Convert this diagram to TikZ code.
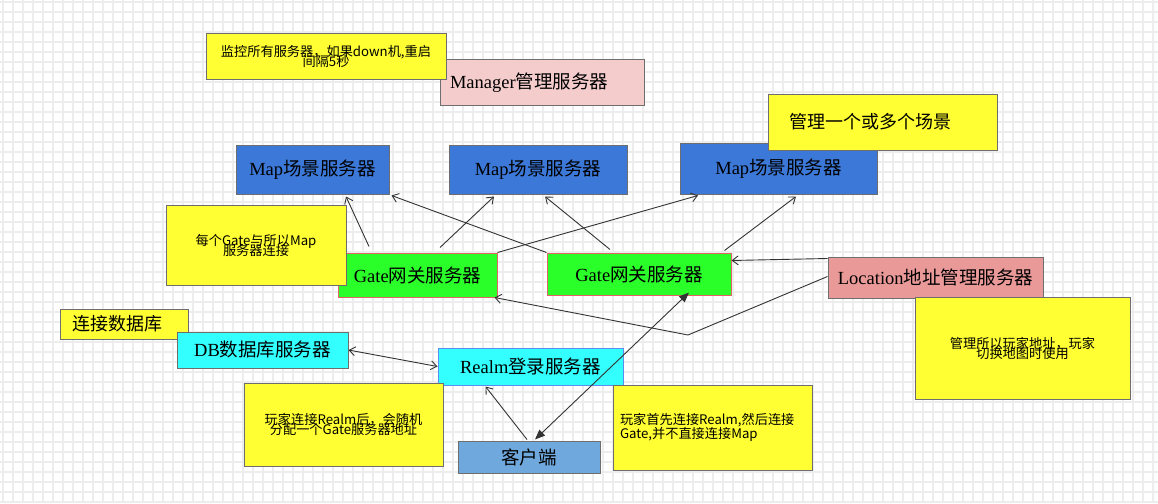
\documentclass[tikz,border=0pt]{standalone}
\usepackage{fontspec}
\setmainfont{Liberation Serif}
\newfontfamily\cjk{Noto Sans CJK SC}
\usepackage{tikz}
\usetikzlibrary{arrows.meta}

\definecolor{gridgray}{HTML}{EDEDED}
\definecolor{boxgray}{HTML}{6E6E6E}
\definecolor{linkgray}{HTML}{333333}
\definecolor{noteyellow}{HTML}{FFFF33}
\definecolor{mapblue}{HTML}{3C78D8}
\definecolor{gategreen}{HTML}{2AFF2A}
\definecolor{gatered}{HTML}{E06666}
\definecolor{managerpink}{HTML}{F4CCCC}
\definecolor{locationpink}{HTML}{EA9999}
\definecolor{dbcyan}{HTML}{33FFFF}
\definecolor{realmblue}{HTML}{5B8DEF}
\definecolor{clientblue}{HTML}{6FA8DC}

\setlength{\lineskiplimit}{-50pt}
\newcommand{\srvlabel}[2]{#1{\cjk #2}}

\tikzset{
  gridline/.style={draw=gridgray, line width=1.2pt},
  srvbox/.style={draw=boxgray, line width=1pt, inner sep=0pt,
    font=\fontsize{18.5}{18.5}\selectfont},
  notebox/.style={draw=boxgray, fill=noteyellow, line width=1pt, inner sep=0pt,
    align=center, font=\cjk\fontsize{13.2}{10}\selectfont},
  bignote/.style={notebox, font=\cjk\fontsize{18}{18}\selectfont},
  link/.style={draw=linkgray, line width=0.9pt, ->},
  duplex/.style={draw=linkgray, line width=0.9pt,
    {Triangle[length=10pt,width=8pt]}-{Triangle[length=10pt,width=8pt]}},
}

\begin{document}
\begin{tikzpicture}[x=1pt, y=-1pt, >={Straight Barb[length=6pt,width=9pt]}]
  \useasboundingbox (0,0) rectangle (1158,503);
  % grid
  \foreach \gx in {3,13,...,1153}
    \draw[gridline] (\gx,0) -- (\gx,503);
  \foreach \gy in {2,12,...,502}
    \draw[gridline] (0,\gy) -- (1158,\gy);

  % manager
  \node[srvbox, fill=managerpink, minimum width=204pt, minimum height=45pt,
    text width=184pt, align=left] (manager) at (542,82.5) {\srvlabel{Manager}{管理服务器}};
  \node[notebox, minimum width=240pt, minimum height=45pt] (monitor) at (326,56.5)
    {监控所有服务器，如果down机,重启\\间隔5秒};

  % maps
  \node[srvbox, fill=mapblue, minimum width=153pt, minimum height=49pt] (map1) at (312.5,169.5) {\srvlabel{Map}{场景服务器}};
  \node[srvbox, fill=mapblue, minimum width=178pt, minimum height=49pt] (map2) at (538,169.5) {\srvlabel{Map}{场景服务器}};
  \node[srvbox, fill=mapblue, minimum width=197pt, minimum height=51pt] (map3) at (778.5,168.5) {\srvlabel{Map}{场景服务器}};
  \node[bignote, minimum width=229pt, minimum height=56pt, text width=187pt, align=left] (scenenote) at (882.5,122) {管理一个或多个场景};

  % gates
  \node[srvbox, fill=gategreen, draw=gatered, minimum width=159pt, minimum height=44pt] (gate1) at (417.5,275) {\srvlabel{Gate}{网关服务器}};
  \node[srvbox, fill=gategreen, draw=gatered, minimum width=184pt, minimum height=42pt] (gate2) at (639,274) {\srvlabel{Gate}{网关服务器}};
  \node[notebox, minimum width=180pt, minimum height=80pt] (gatenote) at (256,245)
    {每个Gate与所以Map\\服务器连接};

  % location
  \node[srvbox, fill=locationpink, minimum width=215pt, minimum height=41pt] (location) at (935.5,277.5) {\srvlabel{Location}{地址管理服务器}};
  \node[notebox, minimum width=215pt, minimum height=102pt] (locnote) at (1022.5,348)
    {管理所以玩家地址，玩家\\切换地图时使用};

  % db, realm, client
  \node[bignote, minimum width=128pt, minimum height=30pt, text width=104pt, align=left] (dbnote) at (124,324) {连接数据库};
  \node[srvbox, fill=dbcyan, minimum width=171pt, minimum height=36pt] (db) at (262.5,350) {\srvlabel{DB}{数据库服务器}};
  \node[srvbox, fill=dbcyan, draw=realmblue, minimum width=185pt, minimum height=37pt] (realm) at (530.5,366.5) {\srvlabel{Realm}{登录服务器}};
  \node[notebox, minimum width=199pt, minimum height=83pt] (realmnote) at (343.5,424.5)
    {玩家连接Realm后，会随机\\分配一个Gate服务器地址};
  \node[srvbox, fill=clientblue, minimum width=142pt, minimum height=32pt] (client) at (529,457) {\cjk 客户端};
  \node[notebox, minimum width=199pt, minimum height=85pt, text width=185pt, align=left] (clientnote) at (712.5,427.5)
    {玩家首先连接Realm,然后连接\\Gate,并不直接连接Map};

  % connectors
  \draw[link] ([xshift=-48.5pt,yshift=6pt]gate1.north) -- ([xshift=33.5pt,yshift=-2pt]map1.south);
  \draw[link] ([xshift=22.5pt,yshift=5pt]gate1.north) -- ([xshift=-44pt,yshift=-2pt]map2.south);
  \draw[link] (gate1.north east) -- ([xshift=-80.5pt,yshift=-1pt]map3.south);
  \draw[link] (gate2.north west) -- ([xshift=2pt,yshift=-1pt]map1.south east);
  \draw[link] ([xshift=-29pt,yshift=3pt]gate2.north) -- ([xshift=7pt,yshift=-2pt]map2.south);
  \draw[link] ([xshift=-7pt,yshift=2pt]gate2.north east) -- ([xshift=17.5pt,yshift=-2pt]map3.south);
  \draw[link] ([yshift=-2pt]location.north west) -- ([yshift=-8pt]gate2.north east);
  \coordinate (locbend) at (688,335);
  \draw[link] ([yshift=1pt]location.west) -- (locbend) -- ([xshift=-3pt]gate1.south east);
  \draw[link, <->] (db.east) -- (realm.west);
  \draw[link] ([xshift=-2pt,yshift=1pt]client.north) -- ([xshift=-45pt,yshift=-1pt]realm.south);
  \draw[duplex] ([xshift=6pt,yshift=1pt]client.north) -- ([xshift=50pt,yshift=3pt]gate2.south);
\end{tikzpicture}
\end{document}
